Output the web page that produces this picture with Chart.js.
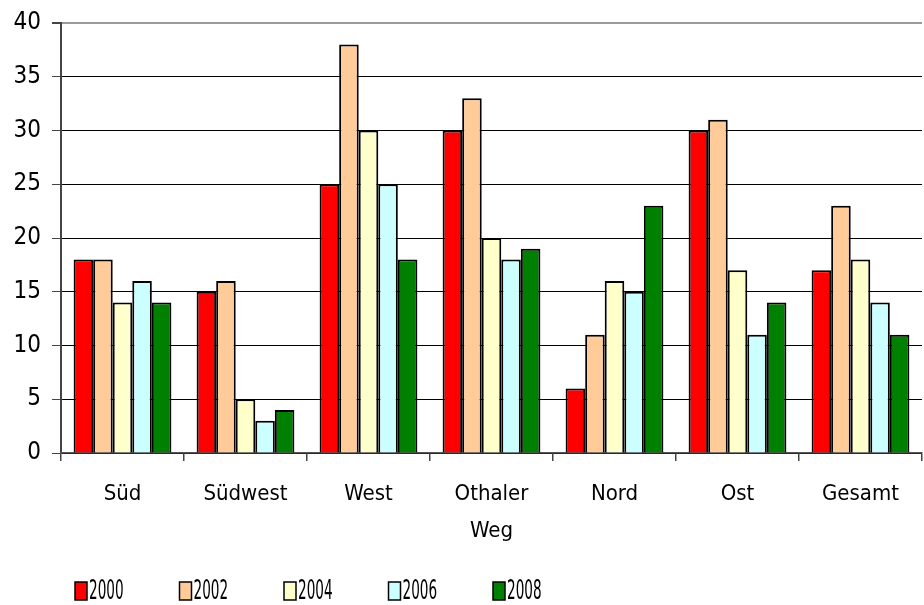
<!DOCTYPE html>
<html>
<head>
<meta charset="utf-8">
<script src="https://cdn.jsdelivr.net/npm/chart.js@4.4.1/dist/chart.umd.min.js"></script>
<style>
    html, body { margin: 0; padding: 0; background: #fff; }
    #wrap { width: 924px; height: 605px; }
</style>
</head>
<body>
<div id="wrap"><canvas id="myChart" width="924" height="605"></canvas></div>
<script>
const categories = ["Süd", "Südwest", "West", ["Othaler", "Weg"], "Nord", "Ost", "Gesamt"],
    years = ["2000", "2002", "2004", "2006", "2008"],
    v2000 = [18, 15, 25, 30, 6, 30, 17],
    v2002 = [18, 16, 38, 33, 11, 31, 23],
    v2004 = [14, 5, 30, 20, 16, 17, 18],
    v2006 = [16, 3, 25, 18, 15, 11, 14],
    v2008 = [14, 4, 18, 19, 23, 14, 11],
    yTicks = [0, 5, 10, 15, 20, 25, 30, 35, 40],
    colors = ["#ff0000", "#ffcc99", "#ffffcc", "#ccffff", "#008000"],
    fontFamily = "'DejaVu Sans Condensed', 'Liberation Sans Narrow', 'DejaVu Sans', sans-serif";

const series = [v2000, v2002, v2004, v2006, v2008];

// legend drawn by hand so the items sit left like the original (narrow text)
const legendPlugin = {
    id: "bottomLegend",
    afterDraw(chart) {
        const ctx = chart.ctx;
        ctx.save();
        ctx.textBaseline = "middle";
        ctx.textAlign = "left";
        chart.data.datasets.forEach((ds, i) => {
            const x = 75 + i * 104.5, y = 591;
            ctx.fillStyle = ds.backgroundColor;
            ctx.fillRect(x, y - 9, 12, 18);
            ctx.strokeStyle = "#000";
            ctx.lineWidth = 1.5;
            ctx.strokeRect(x, y - 9, 12, 18);
            ctx.save();
            ctx.translate(x + 14, y + 1);
            ctx.scale(0.56, 1);
            ctx.font = "27px " + fontFamily;
            ctx.fillStyle = "#000";
            ctx.fillText(ds.label, 0, 0);
            ctx.restore();
        });
        ctx.restore();
    }
};

const ctx = document.getElementById("myChart").getContext("2d");
const myChart = new Chart(ctx, {
    type: "bar",
    data: {
        labels: categories,
        datasets: years.map((y, i) => ({
            label: y,
            data: series[i],
            backgroundColor: colors[i],
            borderColor: "#000",
            borderWidth: 2,
            barPercentage: 1,
            categoryPercentage: 0.795
        }))
    },
    options: {
        responsive: false,
        animation: false,
        layout: { padding: { top: 21, right: 2, left: 0, bottom: 0 } },
        plugins: {
            legend: { display: false },
            tooltip: { enabled: false }
        },
        scales: {
            y: {
                min: 0,
                max: 40,
                afterFit: (scale) => { scale.width = 61; },
                afterBuildTicks: (scale) => { scale.ticks = yTicks.map(v => ({ value: v })); },
                ticks: {
                    color: "#000",
                    padding: 11,
                    font: { family: fontFamily, size: 24, lineHeight: 1 }
                },
                grid: {
                    color: (c) => c.tick && c.tick.value === 40 ? "#9a9a9a" : "#000",
                    lineWidth: (c) => c.tick && c.tick.value === 40 ? 2 : 1,
                    tickLength: 9,
                    tickColor: "#444"
                },
                border: { color: "#444", width: 2 }
            },
            x: {
                afterFit: (scale) => { scale.height = 152; },
                ticks: {
                    color: "#000",
                    padding: 14,
                    font: { family: fontFamily, size: 22, lineHeight: 1.72 }
                },
                grid: {
                    drawOnChartArea: false,
                    tickLength: 8,
                    tickColor: (c) => c.index === categories.length ? "rgba(0,0,0,0)" : "#444",
                    lineWidth: 1.5
                },
                border: { color: "#555", width: 1.5 }
            }
        }
    },
    plugins: [legendPlugin]
});
</script>
</body>
</html>
